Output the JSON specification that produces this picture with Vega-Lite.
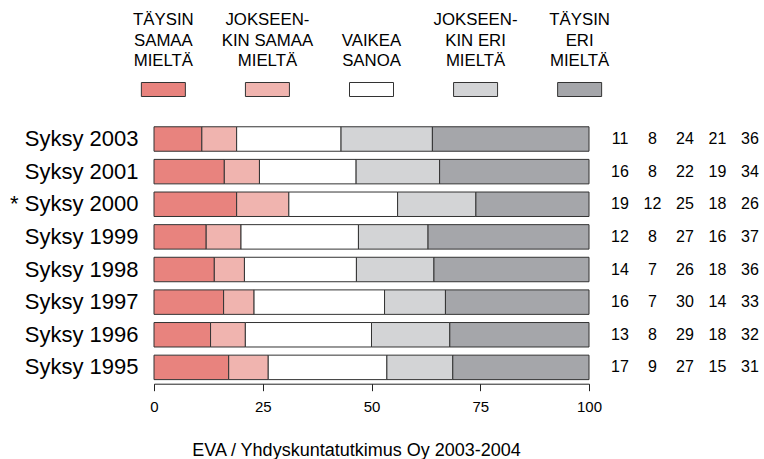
{
  "$schema": "https://vega.github.io/schema/vega-lite/v6.json",
  "padding": {"left": 9, "top": 12, "right": 0, "bottom": 0},
  "background": "white",
  "bounds": "flush",
  "spacing": 32.7,
  "config": {
    "view": {"stroke": null},
    "font": "Liberation Sans",
    "text": {"font": "Liberation Sans", "color": "black"}
  },
  "datasets": {
    "survey": [
      {"period": "Syksy 2003", "cat": "Täysin samaa mieltä", "k": 1, "value": 11},
      {"period": "Syksy 2003", "cat": "Jokseenkin samaa mieltä", "k": 2, "value": 8},
      {"period": "Syksy 2003", "cat": "Vaikea sanoa", "k": 3, "value": 24},
      {"period": "Syksy 2003", "cat": "Jokseenkin eri mieltä", "k": 4, "value": 21},
      {"period": "Syksy 2003", "cat": "Täysin eri mieltä", "k": 5, "value": 36},
      {"period": "Syksy 2001", "cat": "Täysin samaa mieltä", "k": 1, "value": 16},
      {"period": "Syksy 2001", "cat": "Jokseenkin samaa mieltä", "k": 2, "value": 8},
      {"period": "Syksy 2001", "cat": "Vaikea sanoa", "k": 3, "value": 22},
      {"period": "Syksy 2001", "cat": "Jokseenkin eri mieltä", "k": 4, "value": 19},
      {"period": "Syksy 2001", "cat": "Täysin eri mieltä", "k": 5, "value": 34},
      {"period": "* Syksy 2000", "cat": "Täysin samaa mieltä", "k": 1, "value": 19},
      {"period": "* Syksy 2000", "cat": "Jokseenkin samaa mieltä", "k": 2, "value": 12},
      {"period": "* Syksy 2000", "cat": "Vaikea sanoa", "k": 3, "value": 25},
      {"period": "* Syksy 2000", "cat": "Jokseenkin eri mieltä", "k": 4, "value": 18},
      {"period": "* Syksy 2000", "cat": "Täysin eri mieltä", "k": 5, "value": 26},
      {"period": "Syksy 1999", "cat": "Täysin samaa mieltä", "k": 1, "value": 12},
      {"period": "Syksy 1999", "cat": "Jokseenkin samaa mieltä", "k": 2, "value": 8},
      {"period": "Syksy 1999", "cat": "Vaikea sanoa", "k": 3, "value": 27},
      {"period": "Syksy 1999", "cat": "Jokseenkin eri mieltä", "k": 4, "value": 16},
      {"period": "Syksy 1999", "cat": "Täysin eri mieltä", "k": 5, "value": 37},
      {"period": "Syksy 1998", "cat": "Täysin samaa mieltä", "k": 1, "value": 14},
      {"period": "Syksy 1998", "cat": "Jokseenkin samaa mieltä", "k": 2, "value": 7},
      {"period": "Syksy 1998", "cat": "Vaikea sanoa", "k": 3, "value": 26},
      {"period": "Syksy 1998", "cat": "Jokseenkin eri mieltä", "k": 4, "value": 18},
      {"period": "Syksy 1998", "cat": "Täysin eri mieltä", "k": 5, "value": 36},
      {"period": "Syksy 1997", "cat": "Täysin samaa mieltä", "k": 1, "value": 16},
      {"period": "Syksy 1997", "cat": "Jokseenkin samaa mieltä", "k": 2, "value": 7},
      {"period": "Syksy 1997", "cat": "Vaikea sanoa", "k": 3, "value": 30},
      {"period": "Syksy 1997", "cat": "Jokseenkin eri mieltä", "k": 4, "value": 14},
      {"period": "Syksy 1997", "cat": "Täysin eri mieltä", "k": 5, "value": 33},
      {"period": "Syksy 1996", "cat": "Täysin samaa mieltä", "k": 1, "value": 13},
      {"period": "Syksy 1996", "cat": "Jokseenkin samaa mieltä", "k": 2, "value": 8},
      {"period": "Syksy 1996", "cat": "Vaikea sanoa", "k": 3, "value": 29},
      {"period": "Syksy 1996", "cat": "Jokseenkin eri mieltä", "k": 4, "value": 18},
      {"period": "Syksy 1996", "cat": "Täysin eri mieltä", "k": 5, "value": 32},
      {"period": "Syksy 1995", "cat": "Täysin samaa mieltä", "k": 1, "value": 17},
      {"period": "Syksy 1995", "cat": "Jokseenkin samaa mieltä", "k": 2, "value": 9},
      {"period": "Syksy 1995", "cat": "Vaikea sanoa", "k": 3, "value": 27},
      {"period": "Syksy 1995", "cat": "Jokseenkin eri mieltä", "k": 4, "value": 15},
      {"period": "Syksy 1995", "cat": "Täysin eri mieltä", "k": 5, "value": 31}
    ],
    "legendItems": [
      {"cat": "Täysin samaa mieltä", "label": "TÄYSIN\nSAMAA\nMIELTÄ"},
      {"cat": "Jokseenkin samaa mieltä", "label": "JOKSEEN-\nKIN SAMAA\nMIELTÄ"},
      {"cat": "Vaikea sanoa", "label": "\nVAIKEA\nSANOA"},
      {"cat": "Jokseenkin eri mieltä", "label": "JOKSEEN-\nKIN ERI\nMIELTÄ"},
      {"cat": "Täysin eri mieltä", "label": "TÄYSIN\nERI\nMIELTÄ"}
    ]
  },
  "vconcat": [
    {
      "width": 435,
      "height": 69.5,
      "data": {"name": "legendItems"},
      "layer": [
        {
          "mark": {"type": "text", "lineBreak": "\n", "lineHeight": 20.7, "fontSize": 16.8, "font": "Liberation Sans", "baseline": "middle", "align": "center"},
          "encoding": {
            "x": {"field": "cat", "type": "nominal", "scale": {"type": "point", "padding": 0.09, "domain": ["Täysin samaa mieltä", "Jokseenkin samaa mieltä", "Vaikea sanoa", "Jokseenkin eri mieltä", "Täysin eri mieltä"]}, "axis": null},
            "y": {"datum": "text", "type": "nominal", "scale": {"type": "point", "padding": 0, "domain": ["text", "swatch"]}, "axis": null},
            "text": {"field": "label", "type": "nominal"}
          }
        },
        {
          "mark": {"type": "rect", "width": 44, "height": 14, "stroke": "#333333", "strokeWidth": 1},
          "encoding": {
            "x": {"field": "cat", "type": "nominal", "scale": {"type": "point", "padding": 0.09, "domain": ["Täysin samaa mieltä", "Jokseenkin samaa mieltä", "Vaikea sanoa", "Jokseenkin eri mieltä", "Täysin eri mieltä"]}, "axis": null},
            "y": {"datum": "swatch", "type": "nominal", "scale": {"type": "point", "padding": 0, "domain": ["text", "swatch"]}, "axis": null},
            "color": {"field": "cat", "type": "nominal", "legend": null, "scale": {"domain": ["Täysin samaa mieltä", "Jokseenkin samaa mieltä", "Vaikea sanoa", "Jokseenkin eri mieltä", "Täysin eri mieltä"], "range": ["#E8837E", "#F0B4AF", "#FFFFFF", "#D3D4D6", "#A5A6AA"]}}
          }
        }
      ]
    },
    {
      "width": 435,
      "height": 261,
      "data": {"name": "survey"},
      "title": {"text": "EVA / Yhdyskuntatutkimus Oy 2003-2004", "orient": "bottom", "anchor": "middle", "frame": "group", "fontSize": 18, "font": "Liberation Sans", "fontWeight": "normal", "color": "black", "dx": -15, "offset": 27},
      "layer": [
        {
          "mark": {"type": "bar", "stroke": "#333333", "strokeWidth": 1, "opacity": 1},
          "encoding": {
            "y": {"field": "period", "type": "nominal", "sort": ["Syksy 2003", "Syksy 2001", "* Syksy 2000", "Syksy 1999", "Syksy 1998", "Syksy 1997", "Syksy 1996", "Syksy 1995"], "scale": {"paddingInner": 0.25, "paddingOuter": 0.125}, "axis": {"title": null, "domain": false, "ticks": false, "labelFontSize": 22, "labelFont": "Liberation Sans", "labelColor": "black", "labelPadding": 16}},
            "x": {"field": "value", "type": "quantitative", "stack": "normalize", "scale": {"domain": [0, 1], "nice": false}, "axis": {"title": null, "grid": false, "values": [0, 0.25, 0.5, 0.75, 1], "labelExpr": "format(datum.value * 100, 'd')", "domainColor": "#222222", "tickColor": "#222222", "tickSize": 7, "labelFontSize": 15, "labelFont": "Liberation Sans", "labelColor": "black", "labelPadding": 9, "labelFlush": false}},
            "order": {"field": "k", "type": "quantitative"},
            "color": {"field": "cat", "type": "nominal", "legend": null, "scale": {"domain": ["Täysin samaa mieltä", "Jokseenkin samaa mieltä", "Vaikea sanoa", "Jokseenkin eri mieltä", "Täysin eri mieltä"], "range": ["#E8837E", "#F0B4AF", "#FFFFFF", "#D3D4D6", "#A5A6AA"]}}
          }
        },
        {
          "mark": {"type": "text", "fontSize": 16, "font": "Liberation Sans", "align": "center", "baseline": "middle", "color": "black"},
          "encoding": {
            "y": {"field": "period", "type": "nominal", "sort": ["Syksy 2003", "Syksy 2001", "* Syksy 2000", "Syksy 1999", "Syksy 1998", "Syksy 1997", "Syksy 1996", "Syksy 1995"]},
            "x": {"field": "cat", "type": "nominal", "scale": {"type": "point", "padding": 0, "domain": ["Täysin samaa mieltä", "Jokseenkin samaa mieltä", "Vaikea sanoa", "Jokseenkin eri mieltä", "Täysin eri mieltä"], "range": [466, 596]}, "axis": null},
            "text": {"field": "value", "type": "quantitative"}
          }
        }
      ],
      "resolve": {"scale": {"x": "independent"}, "axis": {"x": "independent"}}
    }
  ]
}
